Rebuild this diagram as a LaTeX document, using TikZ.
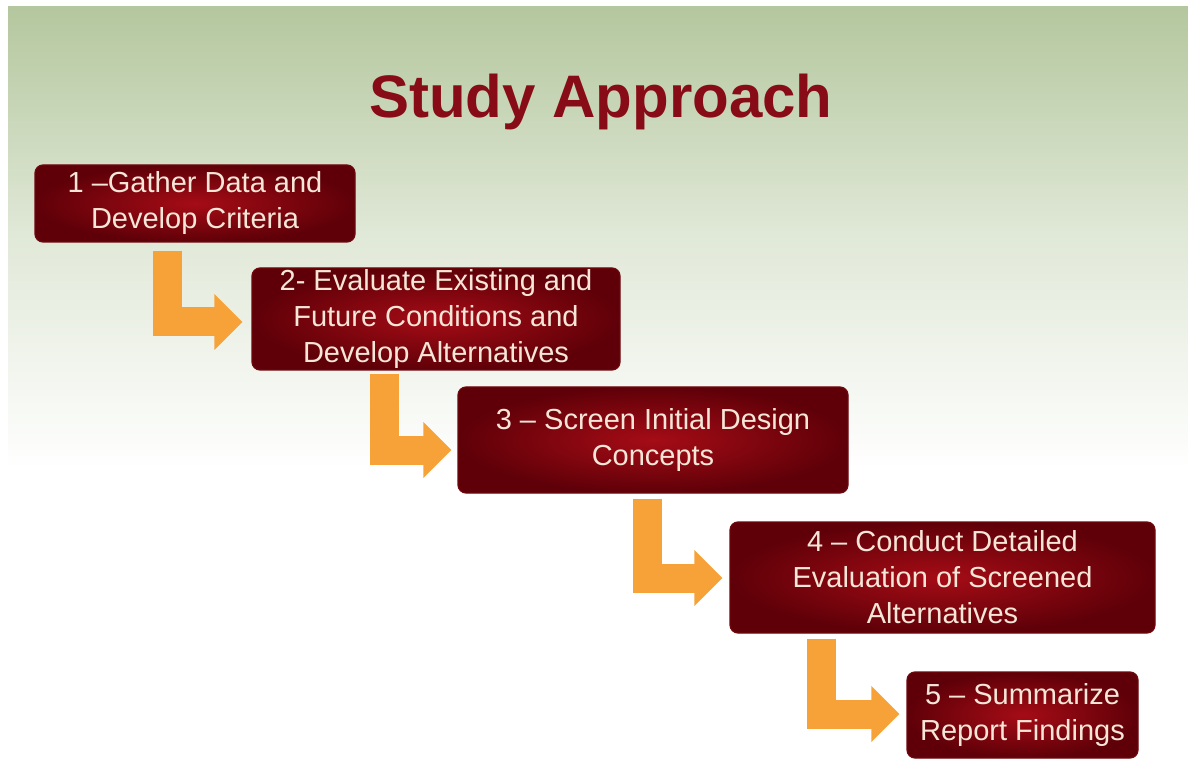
\documentclass[tikz,border=0pt]{standalone}
\usepackage{fontspec}
\setmainfont{Liberation Sans}
\usetikzlibrary{arrows.meta,calc}
\definecolor{bgtop}{RGB}{180,199,158}
\definecolor{boxin}{RGB}{165,12,22}
\definecolor{boxout}{RGB}{95,0,8}
\definecolor{boxline}{RGB}{110,8,14}
\definecolor{txtcol}{RGB}{246,230,216}
\definecolor{titlecol}{RGB}{136,12,24}
\definecolor{arrowcol}{RGB}{247,162,56}
\tikzset{
  stepbox/.style={rectangle, rounded corners=4pt, draw=boxline, line width=0.6pt,
    inner color=boxin, outer color=boxout, text=txtcol, align=center,
    font=\fontsize{14.5pt}{18pt}\selectfont, inner sep=0pt},
  fatarrow/.style={draw=arrowcol, line width=14.5pt, line join=miter,
    -{Triangle[length=14pt,width=27pt]}, arrowcol}
}
\begin{document}
\begin{tikzpicture}[x=0.5pt,y=-0.5pt]
\useasboundingbox (0,0) rectangle (1188,764);
\fill[white] (0,0) rectangle (1188,764);
\shade[top color=bgtop, bottom color=white, middle color=bgtop!40!white] (8,7) rectangle (1188,470);
\node[font=\fontsize{30pt}{36pt}\selectfont\bfseries, text=titlecol] (title) at (601,102) {Study Approach};
\node[stepbox, minimum width=160pt, minimum height=38.5pt] (b1) at (195,203.5) {1 –Gather Data and\\Develop Criteria};
\node[stepbox, minimum width=184pt, minimum height=51pt] (b2) at (436,319) {2- Evaluate Existing and\\Future Conditions and\\Develop Alternatives};
\node[stepbox, minimum width=195pt, minimum height=53pt] (b3) at (653,440) {3 – Screen Initial Design\\Concepts};
\node[stepbox, minimum width=212.5pt, minimum height=55.5pt] (b4) at (942.5,577.5) {4 – Conduct Detailed\\Evaluation of Screened\\Alternatives};
\node[stepbox, minimum width=115.5pt, minimum height=43pt] (b5) at (1022.5,715) {5 – Summarize\\Report Findings};
\draw[fatarrow] ($(b1.south)+(-28,8)$) |- ($(b2.west)+(-9,3)$);
\draw[fatarrow] ($(b2.south)+(-52,3)$) |- ($(b3.west)+(-6,10)$);
\draw[fatarrow] ($(b3.south)+(-6,5)$) |- ($(b4.west)+(-7,0.5)$);
\draw[fatarrow] ($(b4.south)+(-121.5,5)$) |- ($(b5.west)+(-7,-1)$);
\end{tikzpicture}
\end{document}
